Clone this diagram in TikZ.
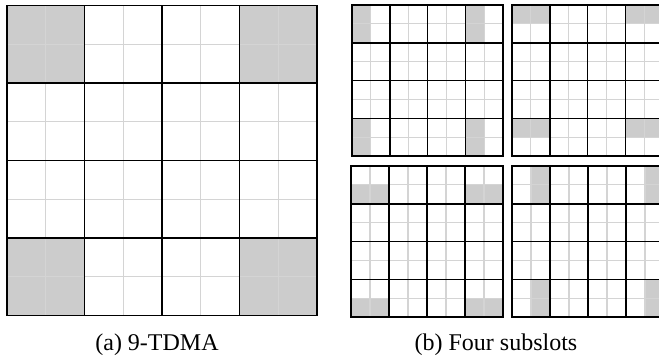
\documentclass[tikz,border=0pt]{standalone}
\usepackage{fontspec}
\setmainfont{Liberation Serif}
\usetikzlibrary{positioning}
\definecolor{slotgray}{HTML}{CCCCCC}
\definecolor{subline}{HTML}{D4D4D4}
\tikzset{
  major/.style={line width=0.9pt,black},
  minor/.style={line width=0.7pt,subline},
  busy/.style={fill=slotgray},
  caption/.style={anchor=base,font=\fontsize{12}{14}\selectfont},
}
% one 8x8 grid of subslots; #3 = busy subcells as col/row
\newcommand{\subslotgrid}[3]{%
  \begin{scope}[shift={(#1,#2)}]
    \foreach \c/\r in {#3}
      \fill[busy] (\c*18.95,\r*18.95) rectangle ++(18.95,18.95);
    \foreach \i in {1,3,5,7} {
      \draw[minor] (\i*18.95,0) -- (\i*18.95,151.6);
      \draw[minor] (0,\i*18.95) -- (151.6,\i*18.95);
    }
    \foreach \i in {2,4,6} {
      \draw[major] (\i*18.95,0) -- (\i*18.95,151.6);
      \draw[major] (0,\i*18.95) -- (151.6,\i*18.95);
    }
    \draw[major] (0,0) rectangle (151.6,151.6);
  \end{scope}}

\begin{document}
\begin{tikzpicture}[x=0.5pt,y=-0.5pt]
  \useasboundingbox (0,0) rectangle (659,360);
  \clip (0,0) rectangle (659,360);

  % (a) 9-TDMA
  \begin{scope}[shift={(7,5.5)}]
    \fill[busy] (0,0) rectangle (77.5,77.5);
    \fill[busy] (232.5,0) rectangle (310,77.5);
    \fill[busy] (0,232.5) rectangle (77.5,310);
    \fill[busy] (232.5,232.5) rectangle (310,310);
    \foreach \i in {1,3,5,7} {
      \draw[minor] (\i*38.75,0) -- (\i*38.75,310);
      \draw[minor] (0,\i*38.75) -- (310,\i*38.75);
    }
    \foreach \i in {1,2,3} {
      \draw[major] (\i*77.5,0) -- (\i*77.5,310);
      \draw[major] (0,\i*77.5) -- (310,\i*77.5);
    }
    \draw[major] (0,0) rectangle (310,310);
  \end{scope}

  % (b) four subslots
  \subslotgrid{351.7}{4.7}{0/0,0/1,6/0,6/1,0/6,0/7,6/6,6/7}
  \subslotgrid{511.7}{4.7}{0/0,1/0,6/0,7/0,0/6,1/6,6/6,7/6}
  \subslotgrid{351.2}{165.7}{0/1,1/1,6/1,7/1,0/7,1/7,6/7,7/7}
  \subslotgrid{512.2}{165.7}{1/0,1/1,7/0,7/1,1/6,1/7,7/6,7/7}

  \node[caption] (capa) at (157,350) {(a) 9-TDMA};
  \node[caption] (capb) at (496,350) {(b) Four subslots};
\end{tikzpicture}
\end{document}
